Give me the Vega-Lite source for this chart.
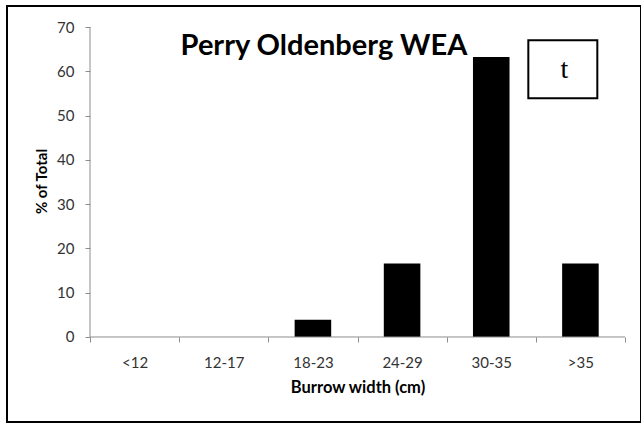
{
  "$schema": "https://vega.github.io/schema/vega-lite/v6.json",
  "width": 634,
  "height": 416,
  "autosize": "none",
  "padding": {"left": 7, "top": 6, "right": 0, "bottom": 1},
  "background": "white",
  "title": {
    "text": "Perry Oldenberg WEA",
    "anchor": "middle",
    "frame": "group",
    "baseline": "alphabetic",
    "offset": -46,
    "dy": 32,
    "font": "Lato",
    "fontSize": 29,
    "fontWeight": "bold",
    "color": "black"
  },
  "data": {
    "values": [
      {"width": "<12", "pct": 0},
      {"width": "12-17", "pct": 0},
      {"width": "18-23", "pct": 3.9},
      {"width": "24-29", "pct": 16.6},
      {"width": "30-35", "pct": 63.2},
      {"width": ">35", "pct": 16.6}
    ]
  },
  "layer": [
    {
      "mark": {"type": "bar", "color": "black", "width": {"band": 0.41}},
      "encoding": {
        "x": {
          "field": "width",
          "type": "nominal",
          "scale": {
            "domain": ["<12", "12-17", "18-23", "24-29", "30-35", ">35"],
            "paddingInner": 0,
            "paddingOuter": 0.55514,
            "align": 0.8384
          },
          "axis": {
            "orient": "bottom",
            "offset": -85,
            "domain": false,
            "grid": false,
            "tickBand": "extent",
            "tickSize": 5,
            "tickColor": "#8c8c8c",
            "labelPadding": 13,
            "labelAngle": 0,
            "labelFont": "Lato",
            "labelFontSize": 15,
            "labelColor": "#333333",
            "title": "Burrow width (cm)",
            "titleFont": "Lato",
            "titleFontSize": 16.5,
            "titleFontWeight": "bold",
            "titleColor": "black",
            "titleX": 350.5,
            "titlePadding": 9
          }
        },
        "y": {
          "field": "pct",
          "type": "quantitative",
          "scale": {"domain": [-19.194, 74.742], "nice": false, "zero": false},
          "axis": {
            "values": [0, 10, 20, 30, 40, 50, 60, 70],
            "offset": -83,
            "domain": false,
            "grid": false,
            "tickSize": 5,
            "tickColor": "#8c8c8c",
            "labelPadding": 11,
            "labelFont": "Lato",
            "labelFontSize": 15,
            "labelColor": "#333333",
            "title": "% of Total",
            "titleFont": "Lato",
            "titleFontSize": 15,
            "titleFontWeight": "bold",
            "titleColor": "black",
            "titlePadding": 7,
            "titleY": 175
          }
        }
      }
    },
    {
      "data": {"values": [{}]},
      "mark": {"type": "rule", "color": "#8c8c8c", "strokeWidth": 1},
      "encoding": {
        "x": {"datum": "<12", "bandPosition": 0},
        "y": {"datum": 0},
        "y2": {"datum": 70}
      }
    },
    {
      "data": {"values": [{}]},
      "mark": {"type": "rule", "color": "#8c8c8c", "strokeWidth": 1},
      "encoding": {
        "x": {"datum": "<12", "bandPosition": 0},
        "x2": {"datum": ">35", "bandPosition": 1},
        "y": {"datum": 0}
      }
    },
    {
      "data": {"values": [{}]},
      "mark": {
        "type": "point",
        "shape": "M-1,-0.841L1,-0.841L1,0.841L-1,0.841Z",
        "size": 4761,
        "filled": false,
        "fill": "white",
        "fillOpacity": 1,
        "stroke": "black",
        "strokeWidth": 2,
        "opacity": 1,
        "xOffset": -17.6
      },
      "encoding": {
        "x": {"datum": ">35"},
        "y": {"datum": 60.47}
      }
    },
    {
      "data": {"values": [{}]},
      "mark": {
        "type": "text",
        "text": "t",
        "font": "Liberation Serif",
        "fontSize": 28,
        "color": "black",
        "baseline": "alphabetic",
        "align": "center",
        "xOffset": -16
      },
      "encoding": {
        "x": {"datum": ">35"},
        "y": {"datum": 58.48}
      }
    }
  ],
  "config": {
    "view": {"stroke": "black", "strokeWidth": 2},
    "axis": {"grid": false}
  }
}
